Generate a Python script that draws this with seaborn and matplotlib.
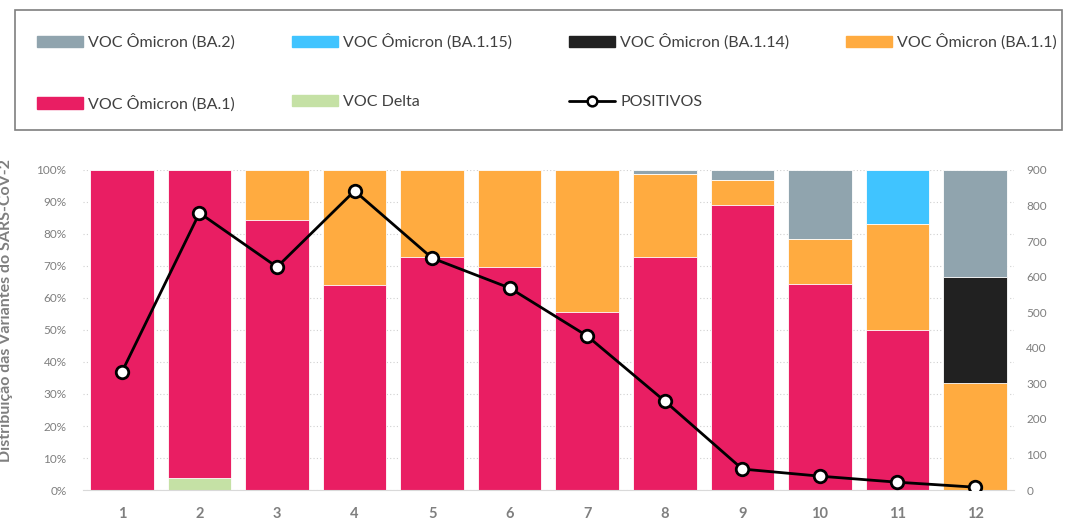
import matplotlib
matplotlib.use("Agg")
import matplotlib.pyplot as plt
import numpy as np
import pandas as pd
import seaborn as sns
from matplotlib.patches import Patch, Rectangle
from matplotlib.lines import Line2D

sns.set_style("white")
plt.rcParams['font.family'] = ['Lato', 'DejaVu Sans']

# data (shares in %, bottom to top of each stack)
weeks = ['1', '2', '3', '4', '5', '6', '7', '8', '9', '10', '11', '12']
delta = [0, 3.8, 0, 0, 0, 0, 0, 0, 0, 0, 0, 0]
ba1 = [100, 96.2, 84.4, 64.1, 72.8, 69.7, 55.6, 72.9, 89.1, 64.4, 50.0, 0]
ba11 = [0, 0, 15.6, 35.9, 27.2, 30.3, 44.4, 25.9, 7.6, 14.1, 33.2, 33.4]
ba114 = [0, 0, 0, 0, 0, 0, 0, 0, 0, 0, 0, 33.3]
ba115 = [0, 0, 0, 0, 0, 0, 0, 0, 0, 0, 16.8, 0]
ba2 = [0, 0, 0, 0, 0, 0, 0, 1.2, 3.3, 21.5, 0, 33.3]
positivos = [332, 779, 627, 841, 652, 568, 433, 250, 59, 39, 22, 8]

series = [
    ('VOC Delta', delta, '#c5e1a5'),
    ('VOC Ômicron (BA.1)', ba1, '#e91e63'),
    ('VOC Ômicron (BA.1.1)', ba11, '#ffab40'),
    ('VOC Ômicron (BA.1.14)', ba114, '#212121'),
    ('VOC Ômicron (BA.1.15)', ba115, '#40c4ff'),
    ('VOC Ômicron (BA.2)', ba2, '#90a4ae'),
]

grey = '#7f7f7f'

fig = plt.figure(figsize=(10.66, 5.18), dpi=100)
ax = fig.add_axes([0.078, 0.054, 0.873, 0.618])

# stacked bars: draw cumulative tops from the highest down
cum = np.cumsum([np.array(v, dtype=float) for _, v, _ in series], axis=0)
for (name, vals, color), top in reversed(list(zip(series, cum))):
    df = pd.DataFrame({'week': weeks, 'value': top})
    sns.barplot(data=df, x='week', y='value', color=color, width=0.82,
                edgecolor='white', linewidth=0.6, saturation=1, ax=ax, zorder=2)

ax.set_ylim(0, 100)
ax.set_xlim(-0.5, len(weeks) - 0.5)
ax.set_yticks(np.arange(0, 101, 10))
ax.set_yticklabels([f'{t}%' for t in range(0, 101, 10)])
ax.yaxis.grid(True, linestyle=(0, (1, 2)), color='#d0d0d0', linewidth=0.8, zorder=0)
ax.set_axisbelow(True)
ax.set_xlabel('')
ax.set_ylabel('')
for s in ['top', 'right', 'left']:
    ax.spines[s].set_visible(False)
ax.spines['bottom'].set_color('#d9d9d9')
ax.tick_params(axis='y', length=0, labelsize=8.5, labelcolor=grey, pad=12)
ax.tick_params(axis='x', length=0, labelsize=10.5, labelcolor=grey, pad=12)
for lab in ax.get_xticklabels():
    lab.set_fontweight('bold')

# positives line on the secondary axis
ax2 = ax.twinx()
ldf = pd.DataFrame({'pos': np.arange(len(weeks)), 'positivos': positivos})
sns.lineplot(data=ldf, x='pos', y='positivos', ax=ax2, color='black', linewidth=2,
             marker='o', markersize=9, markerfacecolor='white', markeredgecolor='black',
             markeredgewidth=2, zorder=5)
ax2.set_ylim(0, 900)
ax2.set_yticks(np.arange(0, 901, 100))
ax2.set_ylabel('')
ax2.set_xlim(-0.5, len(weeks) - 0.5)
for s in ['top', 'right', 'left', 'bottom']:
    ax2.spines[s].set_visible(False)
ax2.tick_params(axis='y', length=0, labelsize=8.5, labelcolor=grey, pad=9)

fig.text(0.006, 0.40, 'Distribuição das Variantes do SARS-CoV-2', rotation=90,
         ha='center', va='center', fontsize=11.5, fontweight='bold', color=grey)

# legend box
fig.patches.append(Rectangle((15 / 1066, 1 - 130 / 518), 1047 / 1066, 120 / 518,
                             transform=fig.transFigure, fill=False,
                             edgecolor='#7f7f7f', linewidth=1.2))
colors = {n: c for n, _, c in series}
handles = [
    Patch(color=colors['VOC Ômicron (BA.2)'], label='VOC Ômicron (BA.2)'),
    Patch(color=colors['VOC Ômicron (BA.1)'], label='VOC Ômicron (BA.1)'),
    Patch(color=colors['VOC Ômicron (BA.1.15)'], label='VOC Ômicron (BA.1.15)'),
    Patch(color=colors['VOC Delta'], label='VOC Delta'),
    Patch(color=colors['VOC Ômicron (BA.1.14)'], label='VOC Ômicron (BA.1.14)'),
    Line2D([], [], color='black', linewidth=2, marker='o', markersize=7,
           markerfacecolor='white', markeredgewidth=1.8, label='POSITIVOS'),
    Patch(color=colors['VOC Ômicron (BA.1.1)'], label='VOC Ômicron (BA.1.1)'),
]
leg = fig.legend(handles=handles, ncol=4, loc='upper left', mode='expand',
                 bbox_to_anchor=(37 / 1066, 1 - 34 / 518, 1020 / 1066, 0.001),
                 frameon=False, fontsize=11.5, handlelength=2.9, handleheight=0.7,
                 handletextpad=0.3, labelspacing=2.85, borderpad=0, borderaxespad=0)
for t in leg.get_texts():
    t.set_color('#404040')

fig.savefig('out.png', dpi=100)
